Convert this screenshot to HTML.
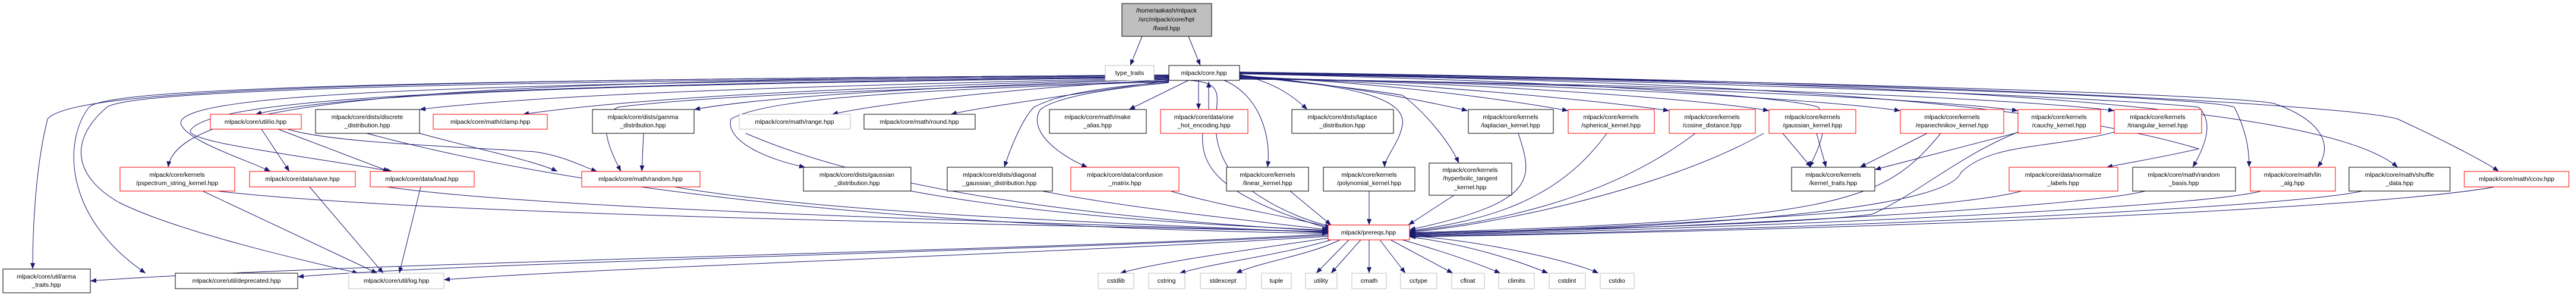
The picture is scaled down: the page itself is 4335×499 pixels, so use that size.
<!DOCTYPE html>
<html><head><meta charset="utf-8"><style>
html,body{margin:0;padding:0;background:#fff;}
svg{display:block;}
text{font-family:"Liberation Sans",sans-serif;font-size:10.5px;fill:#000;text-anchor:middle;}
.b{fill:#fff;stroke:#000;stroke-width:1;}
.r{fill:#fff;stroke:#ff0000;stroke-width:1;}
.g{fill:#fff;stroke:#bfbfbf;stroke-width:1;}
.e{fill:none;stroke:#191970;stroke-width:1;}
</style></head><body>
<svg width="4335" height="499" viewBox="0 0 4335 499" xmlns="http://www.w3.org/2000/svg">
<defs><marker id="a" markerWidth="10" markerHeight="8" refX="10" refY="4" orient="auto" markerUnits="userSpaceOnUse"><path d="M0,0 L10,4 L0,8 z" fill="#191970"/></marker></defs>
<g class="e" marker-end="url(#a)">
<!-- fixed -->
<path d="M1922,61 L1902,110"/>
<path d="M2000,61 L2020,110"/>
<!-- core to row1 left -->
<path d="M1967,130 C1200,140 600,150 430,192"/>
<path d="M1967,131 C1300,145 900,160 706,184"/>
<path d="M1967,132 C1500,145 1100,160 880,192"/>
<path d="M1967,133 C1600,145 1300,160 1168,184"/>
<path d="M1967,134 C1750,145 1500,170 1400,192"/>
<path d="M1967,135 C1800,160 1650,180 1600,192"/>
<path d="M2000,135 L1900,184"/>
<path d="M2017,135 L2017,184"/>
<path d="M2034,184 L2034,137"/>
<!-- core to row1 right -->
<path d="M2086,125 C2150,140 2180,165 2200,184"/>
<path d="M2086,127 C2250,140 2400,170 2470,186"/>
<path d="M2086,128 C2350,140 2550,170 2639,186"/>
<path d="M2086,129 C2400,140 2700,170 2809,186"/>
<path d="M2086,130 C2500,140 2850,165 2977,186"/>
<path d="M2086,131 C2600,140 3050,165 3198,186"/>
<path d="M2086,132 C2700,140 3250,165 3396,186"/>
<path d="M2086,133 C2800,140 3400,165 3558,186"/>
<!-- core to row2 -->
<path d="M1967,127 C900,135 300,150 283,281"/>
<path d="M1967,128 C900,140 280,150 305,210 C320,240 420,270 455,288"/>
<path d="M1967,129 C900,142 350,160 320,220 C320,240 500,260 660,288"/>
<path d="M1967,136 C1500,150 1200,160 1040,180 C1000,200 1030,260 1045,288"/>
<path d="M1967,137 C1600,150 1300,160 1230,200 C1220,240 1300,270 1355,281"/>
<path d="M1967,138 C1800,150 1760,170 1740,180 C1720,200 1700,250 1690,281"/>
<path d="M1967,139 C1800,155 1760,175 1750,185 C1730,220 1780,260 1830,281"/>
<path d="M2060,135 C2120,160 2140,230 2133,281"/>
<path d="M2086,126 C2200,140 2370,150 2360,210 C2355,240 2330,265 2330,281"/>
<path d="M2086,127 C2200,140 2300,150 2360,160 C2400,190 2440,240 2455,274"/>
<path d="M2086,124 C2600,135 3000,160 3060,180 C3080,210 3060,250 3045,281"/>
<path d="M2086,124 C2800,135 3400,160 3700,250 C3650,262 3600,270 3545,281"/>
<path d="M2086,123 C2800,135 3500,160 3700,180 C3720,200 3720,230 3690,281"/>
<path d="M2086,123 C2900,135 3700,160 3760,180 C3780,220 3785,250 3785,281"/>
<path d="M2086,122 C3000,135 3800,160 3830,175 C3900,200 3930,240 3900,281"/>
<path d="M2086,122 C3100,135 3900,165 4035,281"/>
<path d="M2086,121 C3200,135 3950,175 4035,200 C4100,230 4180,270 4205,288"/>
<!-- core to bottom -->
<path d="M1967,126 C600,135 120,150 80,200 C60,280 55,380 55,452"/>
<path d="M1967,126 C600,135 180,150 150,180 C110,230 100,360 245,459"/>
<path d="M1967,127 C600,138 220,155 180,180 C110,240 130,300 200,340 C300,390 520,440 603,459"/>
<path d="M2000,135 C2100,140 2000,200 2080,300 C2150,360 2230,380 2245,380"/>
<!-- row1 to row2 -->
<path d="M440,217 L487,288"/>
<path d="M468,217 L655,288"/>
<path d="M484,217 C560,240 750,245 900,255 C950,262 980,280 1005,288"/>
<path d="M706,224 C800,250 900,270 938,288"/>
<path d="M1083,224 L1080,288"/>
<path d="M3000,224 L3048,281"/>
<path d="M3057,224 L3073,281"/>
<path d="M3243,224 L3130,281"/>
<path d="M3398,222 L3155,285"/>
<!-- row2 to log -->
<path d="M521,314 L645,459"/>
<path d="M708,314 L672,459"/>
<path d="M341,321 L635,459"/>
<!-- to prereqs -->
<path d="M2024,224 C2020,280 2050,330 2240,385"/>
<path d="M366,321 C700,360 1600,375 2235,389"/>
<path d="M651,314 C900,350 1600,370 2235,390"/>
<path d="M1135,314 C1400,360 1900,375 2235,391"/>
<path d="M1255,224 C1500,330 1900,370 2235,388"/>
<path d="M617,224 C900,300 1400,380 2235,392"/>
<path d="M1533,321 C1800,370 2100,380 2235,387"/>
<path d="M1754,321 C1900,350 2100,370 2235,386"/>
<path d="M1970,321 C2050,345 2150,360 2240,382"/>
<path d="M2171,321 L2240,378"/>
<path d="M2304,321 L2304,378"/>
<path d="M2447,328 L2370,378"/>
<path d="M2555,224 C2580,300 2590,340 2372,386"/>
<path d="M2704,224 C2620,340 2500,370 2372,388"/>
<path d="M2853,224 C2700,340 2500,375 2372,389"/>
<path d="M2968,224 C2800,320 2500,380 2372,390"/>
<path d="M3266,224 C3170,340 3100,370 2372,391"/>
<path d="M3396,222 C3300,260 3220,330 3150,360 C3000,380 2500,388 2372,392"/>
<path d="M3558,222 C3450,250 3350,240 3300,290 C3280,340 3000,380 2372,393"/>
<path d="M3402,321 C3300,350 2800,380 2372,394"/>
<path d="M3610,321 C3500,350 2800,385 2372,395"/>
<path d="M3805,321 C3700,350 2900,385 2372,396"/>
<path d="M3975,321 C3850,350 3000,388 2372,397"/>
<path d="M4198,314 C4000,350 3200,385 2372,398"/>
<!-- prereqs to bottom -->
<path d="M2235,393 C1800,420 600,440 152,472"/>
<path d="M2235,395 C1800,420 800,440 501,465"/>
<path d="M2235,397 C1800,425 1000,450 747,470"/>
<path d="M2235,400 C2100,420 1950,440 1885,459"/>
<path d="M2240,403 C2150,430 2050,440 1985,459"/>
<path d="M2255,403 C2200,430 2120,440 2080,459"/>
<path d="M2270,403 L2215,459"/>
<path d="M2290,403 L2240,459"/>
<path d="M2304,403 L2304,459"/>
<path d="M2322,403 L2365,459"/>
<path d="M2340,403 L2445,459"/>
<path d="M2360,403 C2420,420 2480,440 2525,459"/>
<path d="M2372,398 C2470,410 2560,440 2605,459"/>
<path d="M2372,396 C2500,405 2650,440 2690,459"/>
</g>
<!-- nodes -->
<rect x="1888" y="6" width="151" height="55" fill="#bfbfbf" stroke="#000"/>
<text x="1963" y="21">/home/aakash/mlpack</text><text x="1963" y="36">/src/mlpack/core/hpt</text><text x="1963" y="51">/fixed.hpp</text>
<rect class="g" x="1860" y="110" width="82" height="25"/><text x="1901" y="126">type_traits</text>
<rect class="b" x="1967" y="110" width="119" height="25"/><text x="2026" y="126">mlpack/core.hpp</text>

<rect class="r" x="354" y="192" width="153" height="25"/><text x="430" y="208">mlpack/core/util/io.hpp</text>
<rect class="b" x="531" y="184" width="175" height="40"/><text x="618" y="200">mlpack/core/dists/discrete</text><text x="618" y="214">_distribution.hpp</text>
<rect class="r" x="729" y="192" width="192" height="25"/><text x="825" y="208">mlpack/core/math/clamp.hpp</text>
<rect class="b" x="997" y="184" width="171" height="40"/><text x="1082" y="200">mlpack/core/dists/gamma</text><text x="1082" y="214">_distribution.hpp</text>
<rect class="g" x="1244" y="192" width="187" height="25"/><text x="1337" y="208">mlpack/core/math/range.hpp</text>
<rect class="b" x="1454" y="192" width="187" height="25"/><text x="1547" y="208">mlpack/core/math/round.hpp</text>
<rect class="b" x="1766" y="184" width="163" height="40"/><text x="1847" y="200">mlpack/core/math/make</text><text x="1847" y="214">_alias.hpp</text>
<rect class="r" x="1953" y="184" width="147" height="40"/><text x="2026" y="200">mlpack/core/data/one</text><text x="2026" y="214">_hot_encoding.hpp</text>
<rect class="b" x="2174" y="184" width="171" height="40"/><text x="2259" y="200">mlpack/core/dists/laplace</text><text x="2259" y="214">_distribution.hpp</text>
<rect class="b" x="2471" y="184" width="143" height="40"/><text x="2542" y="200">mlpack/core/kernels</text><text x="2542" y="214">/laplacian_kernel.hpp</text>
<rect class="r" x="2639" y="184" width="145" height="40"/><text x="2711" y="200">mlpack/core/kernels</text><text x="2711" y="214">/spherical_kernel.hpp</text>
<rect class="r" x="2809" y="184" width="145" height="40"/><text x="2881" y="200">mlpack/core/kernels</text><text x="2881" y="214">/cosine_distance.hpp</text>
<rect class="r" x="2977" y="184" width="146" height="40"/><text x="3050" y="200">mlpack/core/kernels</text><text x="3050" y="214">/gaussian_kernel.hpp</text>
<rect class="r" x="3198" y="184" width="174" height="40"/><text x="3285" y="200">mlpack/core/kernels</text><text x="3285" y="214">/epanechnikov_kernel.hpp</text>
<rect class="r" x="3396" y="184" width="139" height="40"/><text x="3465" y="200">mlpack/core/kernels</text><text x="3465" y="214">/cauchy_kernel.hpp</text>
<rect class="r" x="3558" y="184" width="147" height="40"/><text x="3631" y="200">mlpack/core/kernels</text><text x="3631" y="214">/triangular_kernel.hpp</text>

<rect class="r" x="202" y="281" width="193" height="40"/><text x="298" y="297">mlpack/core/kernels</text><text x="298" y="311">/pspectrum_string_kernel.hpp</text>
<rect class="r" x="420" y="288" width="178" height="26"/><text x="509" y="304">mlpack/core/data/save.hpp</text>
<rect class="r" x="623" y="288" width="175" height="26"/><text x="710" y="304">mlpack/core/data/load.hpp</text>
<rect class="r" x="979" y="288" width="199" height="26"/><text x="1078" y="304">mlpack/core/math/random.hpp</text>
<rect class="b" x="1352" y="281" width="181" height="40"/><text x="1442" y="297">mlpack/core/dists/gaussian</text><text x="1442" y="311">_distribution.hpp</text>
<rect class="b" x="1594" y="281" width="177" height="40"/><text x="1682" y="297">mlpack/core/dists/diagonal</text><text x="1682" y="311">_gaussian_distribution.hpp</text>
<rect class="r" x="1802" y="281" width="182" height="40"/><text x="1893" y="297">mlpack/core/data/confusion</text><text x="1893" y="311">_matrix.hpp</text>
<rect class="b" x="2064" y="281" width="138" height="40"/><text x="2133" y="297">mlpack/core/kernels</text><text x="2133" y="311">/linear_kernel.hpp</text>
<rect class="b" x="2227" y="281" width="154" height="40"/><text x="2304" y="297">mlpack/core/kernels</text><text x="2304" y="311">/polynomial_kernel.hpp</text>
<rect class="b" x="2405" y="274" width="139" height="54"/><text x="2474" y="289">mlpack/core/kernels</text><text x="2474" y="303">/hyperbolic_tangent</text><text x="2474" y="318">_kernel.hpp</text>
<rect class="b" x="3015" y="281" width="140" height="40"/><text x="3085" y="297">mlpack/core/kernels</text><text x="3085" y="311">/kernel_traits.hpp</text>
<rect class="r" x="3381" y="281" width="183" height="40"/><text x="3472" y="297">mlpack/core/data/normalize</text><text x="3472" y="311">_labels.hpp</text>
<rect class="b" x="3589" y="281" width="173" height="40"/><text x="3675" y="297">mlpack/core/math/random</text><text x="3675" y="311">_basis.hpp</text>
<rect class="r" x="3787" y="281" width="143" height="40"/><text x="3858" y="297">mlpack/core/math/lin</text><text x="3858" y="311">_alg.hpp</text>
<rect class="b" x="3953" y="281" width="170" height="40"/><text x="4038" y="297">mlpack/core/math/shuffle</text><text x="4038" y="311">_data.hpp</text>
<rect class="r" x="4147" y="288" width="176" height="26"/><text x="4235" y="304">mlpack/core/math/ccov.hpp</text>

<rect class="r" x="2235" y="378" width="137" height="25"/><text x="2303" y="394">mlpack/prereqs.hpp</text>

<rect class="b" x="5" y="452" width="147" height="40"/><text x="78" y="468">mlpack/core/util/arma</text><text x="78" y="482">_traits.hpp</text>
<rect class="b" x="295" y="459" width="206" height="26"/><text x="398" y="475">mlpack/core/util/deprecated.hpp</text>
<rect class="g" x="587" y="459" width="160" height="26"/><text x="667" y="475">mlpack/core/util/log.hpp</text>
<rect class="g" x="1848" y="459" width="60" height="26"/><text x="1878" y="475">cstdlib</text>
<rect class="g" x="1933" y="459" width="61" height="26"/><text x="1963" y="475">cstring</text>
<rect class="g" x="2020" y="459" width="77" height="26"/><text x="2058" y="475">stdexcept</text>
<rect class="g" x="2123" y="459" width="50" height="26"/><text x="2148" y="475">tuple</text>
<rect class="g" x="2197" y="459" width="53" height="26"/><text x="2223" y="475">utility</text>
<rect class="g" x="2275" y="459" width="58" height="26"/><text x="2304" y="475">cmath</text>
<rect class="g" x="2357" y="459" width="61" height="26"/><text x="2387" y="475">cctype</text>
<rect class="g" x="2443" y="459" width="55" height="26"/><text x="2470" y="475">cfloat</text>
<rect class="g" x="2522" y="459" width="60" height="26"/><text x="2552" y="475">climits</text>
<rect class="g" x="2607" y="459" width="61" height="26"/><text x="2637" y="475">cstdint</text>
<rect class="g" x="2693" y="459" width="57" height="26"/><text x="2721" y="475">cstdio</text>
</svg>
</body></html>
